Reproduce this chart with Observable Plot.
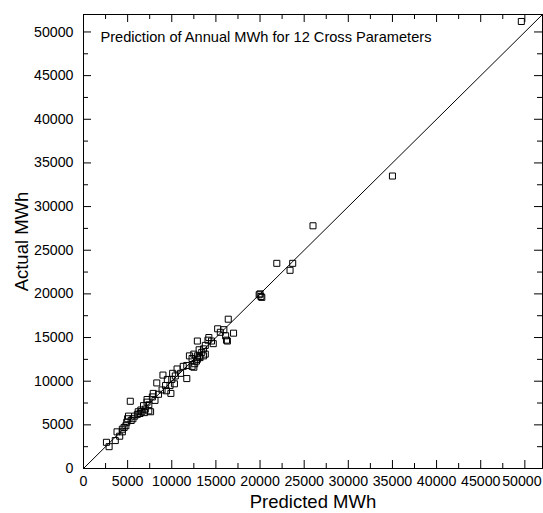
<!DOCTYPE html>
<html>
<head>
<meta charset="utf-8">
<script src="https://cdn.jsdelivr.net/npm/d3@7"></script>
<script src="https://cdn.jsdelivr.net/npm/@observablehq/plot@0.6"></script>
<style>
  html, body { margin: 0; padding: 0; background: #fff; }
  svg { display: block; }
</style>
</head>
<body>
<div id="chart"></div>
<script>
const titleText = "Prediction of Annual MWh for 12 Cross Parameters";
const xLabel = "Predicted MWh";
const yLabel = "Actual MWh";
const axisDomain = [0, 52000];
const majorTicks = [0, 5000, 10000, 15000, 20000, 25000, 30000, 35000, 40000, 45000, 50000];
const minorTicks = [2500, 7500, 12500, 17500, 22500, 27500, 32500, 37500, 42500, 47500];

const predicted = [49600, 35000, 26000, 21900, 23700, 23400, 20000, 20100, 19900, 20200,
  16400, 17000, 12900, 15200, 15500, 15900, 16100, 16200, 16300, 14200,
  14100, 14500, 14700, 13800, 13600, 13100, 13400, 13800, 13600, 12900,
  12500, 12300, 12900, 12600, 13200, 12500, 12000, 13100, 12800, 9000,
  8300, 10100, 10400, 11000, 11300, 11700, 12300, 11700, 10600, 9500,
  10000, 10300, 9800, 9300, 8900, 9400, 9900, 8500, 7900, 7800,
  8100, 7200, 7400, 6800, 6600, 7400, 7000, 5300, 7200, 7600,
  6400, 6900, 6100, 5100, 5000, 5600, 4900, 4800, 4400, 3800,
  4400, 4100, 2600, 2900, 3600, 5800, 6200, 5400, 6500, 4600];
const actual = [51200, 33500, 27800, 23500, 23500, 22700, 20000, 19700, 19900, 19600,
  17100, 15500, 14600, 16000, 15600, 15900, 15200, 14700, 14600, 15000,
  14700, 14600, 14300, 14100, 13700, 13600, 13300, 13100, 12900, 12900,
  13100, 12600, 12500, 12000, 12700, 11600, 12900, 12800, 12300, 10700,
  9800, 10900, 10600, 10900, 11700, 11800, 11700, 10300, 11400, 10200,
  10200, 9700, 9500, 9500, 9000, 8900, 8600, 8500, 8600, 8200,
  7800, 7900, 7300, 7200, 6500, 6600, 6800, 7700, 7600, 6500,
  6300, 6400, 6200, 6000, 5700, 5700, 5300, 4900, 4500, 4200,
  4200, 3700, 3000, 2500, 3200, 6000, 6500, 5500, 6700, 4700];

const points = predicted.map((p, i) => ({predicted: p, actual: actual[i]}));
const diagonal = axisDomain.map(v => ({predicted: v, actual: v}));

const W = 543, H = 513;
const mL = 83, mR = 1, mT = 14, mB = 45;
const plotW = W - mL - mR, plotH = H - mT - mB;
const majorLen = 8, minorLen = 5;
const font = "Arial, 'Liberation Sans', Helvetica, sans-serif";
const tickFont = 14.2;

const chart = Plot.plot({
  width: W,
  height: H,
  marginLeft: mL,
  marginRight: mR,
  marginTop: mT,
  marginBottom: mB,
  style: {fontFamily: font, color: "#000", background: "#fff"},
  x: {domain: axisDomain, label: null},
  y: {domain: axisDomain, label: null},
  marks: [
    Plot.line(diagonal, {x: "predicted", y: "actual", stroke: "#000", strokeWidth: 1}),
    Plot.dot(points, {x: "predicted", y: "actual", symbol: "square", r: 3.4, stroke: "#000", strokeWidth: 1, fill: "none"}),
    Plot.ruleX(majorTicks, {insetTop: plotH - majorLen, stroke: "#000"}),
    Plot.ruleX(minorTicks, {insetTop: plotH - minorLen, stroke: "#000"}),
    Plot.ruleX(majorTicks, {insetBottom: plotH - majorLen, stroke: "#000"}),
    Plot.ruleX(minorTicks, {insetBottom: plotH - minorLen, stroke: "#000"}),
    Plot.ruleY(majorTicks, {insetRight: plotW - majorLen, stroke: "#000"}),
    Plot.ruleY(minorTicks, {insetRight: plotW - minorLen, stroke: "#000"}),
    Plot.ruleY(majorTicks, {insetLeft: plotW - majorLen, stroke: "#000"}),
    Plot.ruleY(minorTicks, {insetLeft: plotW - minorLen, stroke: "#000"}),
    Plot.frame({stroke: "#000", strokeWidth: 1}),
    Plot.axisX(majorTicks.slice(0, -1), {tickSize: 0, tickPadding: 7, tickFormat: d => String(d), fontSize: tickFont, label: null}),
    Plot.axisX(majorTicks.slice(-1), {tickSize: 0, tickPadding: 7, dx: -3, tickFormat: d => String(d), fontSize: tickFont, label: null}),
    Plot.axisY(majorTicks, {tickSize: 0, tickPadding: 10, tickFormat: d => String(d), fontSize: tickFont, label: null}),
    Plot.text([titleText], {frameAnchor: "top-left", dx: 17, dy: 23, textAnchor: "start", lineAnchor: "middle", fontSize: 14.6, fill: "#000"}),
    Plot.text([xLabel], {frameAnchor: "bottom", dy: 34, textAnchor: "middle", lineAnchor: "middle", fontSize: 18.5, fill: "#000"}),
    Plot.text([yLabel], {frameAnchor: "left", dx: -61, rotate: -90, textAnchor: "middle", lineAnchor: "middle", fontSize: 18.5, fill: "#000"})
  ]
});
document.getElementById("chart").appendChild(chart);
</script>
</body>
</html>
